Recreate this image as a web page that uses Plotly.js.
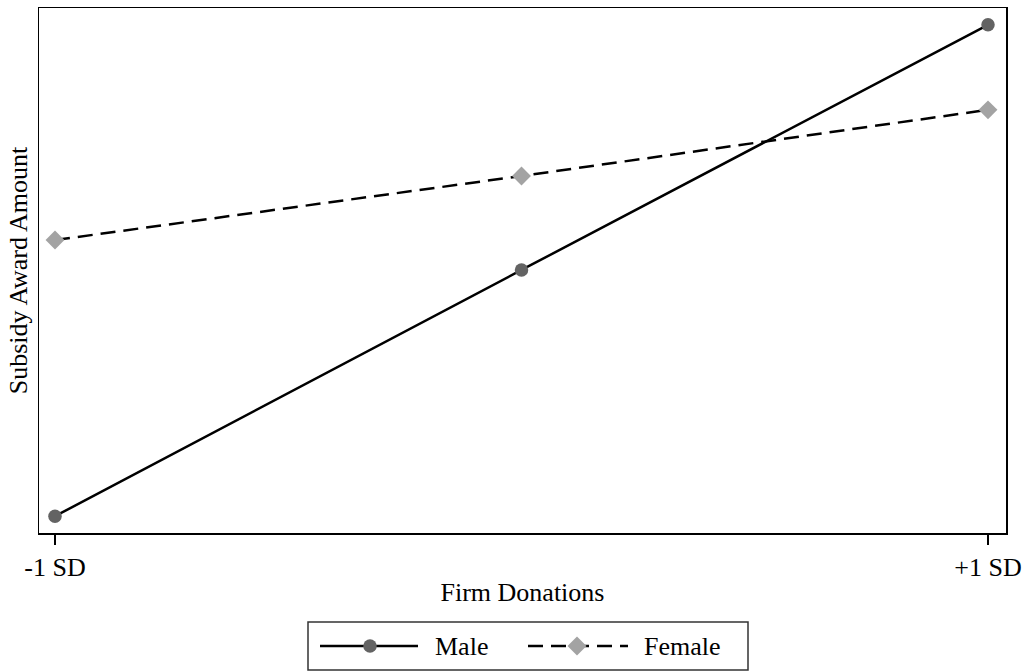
<!DOCTYPE html>
<html>
<head>
<meta charset="utf-8">
<script src="https://cdn.plot.ly/plotly-3.0.1.min.js"></script>
<style>html,body{margin:0;padding:0;background:#fff;}#chart{width:1030px;height:671px;}</style>
</head>
<body>
<div id="chart"></div>
<script>
// Data (arbitrary units; y axis has no tick labels in the reference)
var donationLevels = [-1, 0, 1];
var tickLabels = ['-1 SD', '+1 SD'];
var tickPositions = [-1, 1];
var seriesNames = ['Male', 'Female'];
var maleValues = [3.2, 50.1, 96.8];
var femaleValues = [55.8, 68.0, 80.6];

var serif = 'Liberation Serif, Times New Roman, serif';
var maleStyle = {line: {color: '#000000', width: 2.5, dash: 'solid'}, marker: {symbol: 'circle', size: 13.5, color: '#636363'}};
var femaleStyle = {line: {color: '#000000', width: 2.5, dash: '15px,8px'}, marker: {symbol: 'diamond', size: 14.5, color: '#a3a3a3'}};

var traces = [
  {x: donationLevels, y: maleValues, name: seriesNames[0], type: 'scatter', mode: 'lines+markers',
   line: maleStyle.line, marker: maleStyle.marker, showlegend: false},
  {x: donationLevels, y: femaleValues, name: seriesNames[1], type: 'scatter', mode: 'lines+markers',
   line: femaleStyle.line, marker: femaleStyle.marker, showlegend: false}
];

// Custom legend (pixel layout converted to paper coords)
var plotL = 39, plotR = 1006, plotT = 8, plotB = 533;
function px(x) { return (x - plotL) / (plotR - plotL); }
function py(y) { return (plotB - y) / (plotB - plotT); }
var legY = 646;
var shapes = [
  {type: 'rect', xref: 'paper', yref: 'paper', x0: px(308), x1: px(748), y0: py(670), y1: py(622),
   line: {color: '#333333', width: 1.5}, fillcolor: '#ffffff', layer: 'above'},
  {type: 'line', xref: 'paper', yref: 'paper', x0: px(320), x1: px(418), y0: py(legY), y1: py(legY),
   line: {color: '#000', width: 2.5}, layer: 'above'},
  {type: 'line', xref: 'paper', yref: 'paper', x0: px(528), x1: px(628), y0: py(legY), y1: py(legY),
   line: {color: '#000', width: 2.5, dash: '15px,8px'}, layer: 'above'},
  {type: 'circle', xref: 'paper', yref: 'paper', xsizemode: 'pixel', ysizemode: 'pixel',
   xanchor: px(370), yanchor: py(legY), x0: -6.75, x1: 6.75, y0: -6.75, y1: 6.75,
   fillcolor: '#636363', line: {width: 0}, layer: 'above'},
  {type: 'path', xref: 'paper', yref: 'paper', xsizemode: 'pixel', ysizemode: 'pixel',
   xanchor: px(577), yanchor: py(legY), path: 'M -9.5 0 L 0 9.5 L 9.5 0 L 0 -9.5 Z',
   fillcolor: '#a3a3a3', line: {width: 0}, layer: 'above'}
];
var annotations = [
  {xref: 'paper', yref: 'paper', x: px(433), y: py(legY), xanchor: 'left', yanchor: 'middle', showarrow: false,
   text: seriesNames[0], font: {family: serif, size: 26, color: '#000'}},
  {xref: 'paper', yref: 'paper', x: px(642), y: py(legY), xanchor: 'left', yanchor: 'middle', showarrow: false,
   text: seriesNames[1], font: {family: serif, size: 26, color: '#000'}}
];

var layout = {
  width: 1030, height: 671,
  margin: {l: plotL, r: 1030 - plotR, t: plotT, b: 671 - plotB},
  paper_bgcolor: '#ffffff', plot_bgcolor: '#ffffff',
  font: {family: serif, color: '#000000', size: 26},
  showlegend: false,
  xaxis: {
    range: [-1 - (55 - plotL) / 466.5, 1 + (plotR - 988) / 466.5],
    tickvals: tickPositions, ticktext: tickLabels,
    ticks: 'outside', ticklen: 10, tickwidth: 1.5, tickcolor: '#000',
    showgrid: false, zeroline: false,
    showline: true, linecolor: '#000', linewidth: 1.5, mirror: true,
    tickfont: {family: serif, size: 26, color: '#000'},
    title: {text: 'Firm Donations', font: {family: serif, size: 26, color: '#000'}, standoff: 2}
  },
  yaxis: {
    range: [0, 100],
    showticklabels: false, ticks: '',
    showgrid: false, zeroline: false,
    showline: true, linecolor: '#000', linewidth: 1.5, mirror: true,
    title: {text: 'Subsidy Award Amount', font: {family: serif, size: 26, color: '#000'}, standoff: 2}
  },
  shapes: shapes,
  annotations: annotations
};

Plotly.newPlot('chart', traces, layout, {displayModeBar: false, staticPlot: true});
</script>
</body>
</html>
